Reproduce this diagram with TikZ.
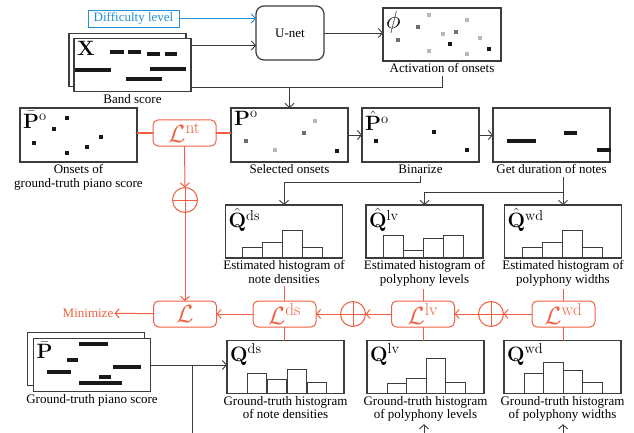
\documentclass[tikz,border=0pt]{standalone}
\usepackage[no-math]{fontspec}
\setmainfont{Liberation Serif}
\usepackage{amsmath}
\usetikzlibrary{arrows.meta,positioning,calc,shadows}
\definecolor{lossorange}{RGB}{240,95,65}
\definecolor{diffblue}{RGB}{35,145,215}
\definecolor{linegray}{RGB}{60,60,60}
\definecolor{lightdot}{RGB}{185,185,185}
\definecolor{middot}{RGB}{110,110,110}
\definecolor{darkdot}{RGB}{25,25,25}

\begin{document}
\begin{tikzpicture}[x=1pt, y=-1pt,
    every node/.style={font=\fontsize{13}{13.5}\selectfont},
    box/.style={draw=linegray, line width=1.2pt, fill=white, outer sep=0pt,
      inner sep=0pt, minimum width=117pt, minimum height=53pt},
    paper/.style={box, copy shadow={shadow xshift=-#1, shadow yshift=#1}},
    paper/.default=5pt,
    caption/.style={align=center, inner sep=2.5pt},
    tag/.style={anchor=north west, inner sep=3pt, font=\fontsize{21}{21}\selectfont},
    lossbox/.style={draw=lossorange, text=lossorange, line width=1pt, rounded corners=5pt,
      minimum width=63pt, minimum height=26pt, inner sep=0pt, outer sep=0pt,
      font=\fontsize{24}{24}\selectfont},
    plus/.style={circle, draw=lossorange, line width=1pt, minimum size=25pt, inner sep=0pt,
      outer sep=0pt, path picture={\draw[lossorange, line width=1pt]
        (path picture bounding box.north) -- (path picture bounding box.south)
        (path picture bounding box.west) -- (path picture bounding box.east);}},
    arr/.style={-{Straight Barb[length=4pt,width=9pt]}, draw=linegray, line width=0.9pt},
    lossarr/.style={arr, draw=lossorange, line width=1pt},
    lossline/.style={draw=lossorange, line width=1pt},
    link/.style={draw=linegray, line width=0.9pt},
    notebar/.style={draw=darkdot, line width=3.5pt},
    histbar/.style={draw=linegray, line width=1pt}]
  \useasboundingbox (0,0) rectangle (634,433);

  % top row
  \node[box, draw=diffblue, line width=0.9pt, text=diffblue, minimum width=91pt,
        minimum height=17pt] (diff) at (133.5,18.5) {Difficulty level};
  \node[draw=linegray, line width=1.2pt, rounded corners=8pt, outer sep=0pt,
        minimum width=68pt, minimum height=54pt] (unet) at (290,33) {U-net};
  \node[paper] (band) at (132.5,65) {};
  \node[tag] (bandtag) at (band.north west) {$\mathbf{X}$};
  \node[caption, below=0pt of band] (bandlab) {Band score};
  \node[box, minimum width=118pt] (act) at (442,34.5) {};
  \node[tag, inner sep=3pt, font=\fontsize{24}{24}\selectfont] (acttag) at (act.north west) {$\phi$};
  \node[caption, below=0pt of act] (actlab) {Activation of onsets};

  \foreach \xa/\xb/\y in {110/124/52, 128/141/52, 147/160/54, 165/177/54,
                          75/111/70, 150/186/69, 126/162/79}
    \draw[notebar] (\xa,\y) -- (\xb,\y);
  \foreach \x/\y/\c in {429/15/lightdot, 467/20/lightdot, 418/27/middot, 398/40/middot,
                        443/34/lightdot, 456/32/middot, 480/38/lightdot, 450/44/darkdot,
                        429/51/lightdot, 467/54/lightdot, 489/49/darkdot}
    \fill[\c] (\x-1.75,\y-1.75) rectangle ++(3.5,3.5);

  % onset row
  \node[box, minimum height=54pt] (pbar) at (78.5,135) {};
  \node[tag] (pbartag) at (pbar.north west) {$\bar{\mathbf{P}}^{\mathrm{o}}$};
  \node[caption, below=0pt of pbar] (pbarlab) {Onsets of\\ground-truth piano score};
  \node[lossbox, right=16pt of pbar, yshift=2pt] (lnt) {$\mathcal{L}^{\mathrm{nt}}$};
  \node[box, minimum height=54pt, right=15pt of pbar.east -| lnt.east] (sel) {};
  \node[tag] (seltag) at (sel.north west) {$\mathbf{P}^{\mathrm{o}}$};
  \node[caption, below=0pt of sel] (sellab) {Selected onsets};
  \node[box, minimum height=54pt, right=14pt of sel] (bin) {};
  \node[tag] (bintag) at (bin.north west) {$\hat{\mathbf{P}}^{\mathrm{o}}$};
  \node[caption, below=0pt of bin] (binlab) {Binarize};
  \node[box, minimum height=54pt, right=14pt of bin] (dur) {};
  \node[caption, below=0pt of dur] (durlab) {Get duration of notes};

  \foreach \x/\y in {67/118, 54/129, 34/143, 101/137, 87/147, 67/153}
    \fill[darkdot] (\x-1.75,\y-1.75) rectangle ++(3.5,3.5);
  \foreach \x/\y/\c in {315/121/lightdot, 304/133/middot, 246/141/middot,
                        275/150/lightdot, 337/151/darkdot,
                        376/141/darkdot, 434/132/darkdot, 467/150/darkdot}
    \fill[\c] (\x-1.75,\y-1.75) rectangle ++(3.5,3.5);
  \foreach \xa/\xb/\y in {507/536/141, 564/577/133, 597/611/150}
    \draw[notebar, line width=4pt] (\xa,\y) -- (\xb,\y);

  % estimated histograms
  \node[box] (qhds) at (284,231.5) {};
  \node[tag] (qhdstag) at (qhds.north west) {$\hat{\mathbf{Q}}^{\mathrm{ds}}$};
  \node[caption, below=0pt of qhds] (qhdslab) {Estimated histogram of\\note densities};
  \node[box] (qhlv) at (424.5,231.5) {};
  \node[tag] (qhlvtag) at (qhlv.north west) {$\hat{\mathbf{Q}}^{\mathrm{lv}}$};
  \node[caption, below=0pt of qhlv] (qhlvlab) {Estimated histogram of\\polyphony levels};
  \node[box] (qhwd) at (563,231.5) {};
  \node[tag] (qhwdtag) at (qhwd.north west) {$\hat{\mathbf{Q}}^{\mathrm{wd}}$};
  \node[caption, below=0pt of qhwd] (qhwdlab) {Estimated histogram of\\polyphony widths};

  \foreach \h [count=\i from 0] in {11,16,28,11}
    \draw[histbar] ($(qhds.south west)+(17+20*\i,0)$) rectangle ++(20,-\h);
  \foreach \h [count=\i from 0] in {23,8,20,23}
    \draw[histbar] ($(qhlv.south west)+(17+20*\i,0)$) rectangle ++(20,-\h);
  \foreach \h [count=\i from 0] in {11,16,28,11}
    \draw[histbar] ($(qhwd.south west)+(18+20*\i,0)$) rectangle ++(20,-\h);

  % losses
  \node[lossbox] (L) at (185,314) {$\mathcal{L}$};
  \node[text=lossorange, inner sep=1pt] (minimize) at (88,313) {Minimize};
  \node[plus] (sumnt) at (185,200) {};
  \node[lossbox] (lds) at (284.5,314) {$\mathcal{L}^{\mathrm{ds}}$};
  \node[plus] (sumds) at (353,314) {};
  \node[lossbox] (llv) at (423,314) {$\mathcal{L}^{\mathrm{lv}}$};
  \node[plus] (sumlv) at (491,314) {};
  \node[lossbox] (lwd) at (563.5,314) {$\mathcal{L}^{\mathrm{wd}}$};

  % ground truth
  \node[paper=6pt] (gt) at (92,365) {};
  \node[tag] (gttag) at (gt.north west) {$\bar{\mathbf{P}}$};
  \node[caption, below=0pt of gt] (gtlab) {Ground-truth piano score};
  \node[box] (qds) at (285.5,367) {};
  \node[tag] (qdstag) at (qds.north west) {$\mathbf{Q}^{\mathrm{ds}}$};
  \node[caption, below=0pt of qds] (qdslab) {Ground-truth histogram\\of note densities};
  \node[box] (qlv) at (425.5,367) {};
  \node[tag] (qlvtag) at (qlv.north west) {$\mathbf{Q}^{\mathrm{lv}}$};
  \node[caption, below=0pt of qlv] (qlvlab) {Ground-truth histogram\\of polyphony levels};
  \node[box] (qwd) at (562.5,367) {};
  \node[tag] (qwdtag) at (qwd.north west) {$\mathbf{Q}^{\mathrm{wd}}$};
  \node[caption, below=0pt of qwd] (qwdlab) {Ground-truth histogram\\of polyphony widths};

  \foreach \xa/\xb/\y in {79/108/344, 67/78/360, 47/71/372, 113/141/367, 99/111/377, 79/122/383}
    \draw[notebar] (\xa,\y) -- (\xb,\y);
  \foreach \h [count=\i from 0] in {20,14,24,11}
    \draw[histbar] ($(qds.south west)+(20+20*\i,0)$) rectangle ++(19,-\h);
  \foreach \h [count=\i from 0] in {10,15,35,11}
    \draw[histbar] ($(qlv.south west)+(20+19.5*\i,0)$) rectangle ++(19.5,-\h);
  \foreach \h [count=\i from 0] in {20,31,23,11}
    \draw[histbar] ($(qwd.south west)+(20+19.5*\i,0)$) rectangle ++(19.5,-\h);

  % connectors
  \coordinate (bandin) at ([yshift=-7pt]band.north east);
  \coordinate (bandtap) at ([yshift=4pt]band.south east);
  \draw[arr, draw=diffblue] (diff.east) -- (diff.east -| unet.west);
  \draw[arr] (bandin) -- (bandin -| unet.west);
  \draw[arr] (unet.east) -- (unet.east -| act.west);
  \draw[link] (bandtap) -| (actlab.south);
  \draw[arr] (bandtap -| sel.north) -- (sel.north);
  \draw[lossline] (pbar.east |- lnt.west) -- (lnt.west);
  \draw[lossline] (lnt.east) -- (lnt.east -| sel.west);
  \draw[lossarr] (lnt) -- (sumnt);
  \draw[lossarr] (sumnt) -- (L);
  \draw[arr] (sel) -- (bin);
  \draw[arr] (bin) -- (dur);
  \coordinate (binturn) at ([yshift=-6pt]binlab.south);
  \draw[arr] (binlab.south) -- (binturn) -| (qhds.north);
  \draw[arr] (qhwd.north |- durlab.south) -- (qhwd.north);
  \coordinate (durturn) at ([yshift=13pt]qhwd.north);
  \draw[arr] (durturn) -| (qhlv.north);

  \draw[lossline] (lds.north |- qhdslab.south) -- (lds.north);
  \draw[lossline] (lds.south) -- (lds.south |- qds.north);
  \draw[lossline] (llv.north |- qhlvlab.south) -- (llv.north);
  \draw[lossline] (llv.south) -- (llv.south |- qlv.north);
  \draw[lossline] (lwd.north |- qhwdlab.south) -- (lwd.north);
  \draw[lossline] (lwd.south) -- (lwd.south |- qwd.north);
  \draw[lossarr] (lwd) -- (sumlv);
  \draw[lossarr] (sumlv) -- (llv);
  \draw[lossarr] (llv) -- (sumds);
  \draw[lossarr] (sumds) -- (lds);
  \draw[lossarr] (lds) -- (L);
  \draw[lossarr] (L) -- (minimize);

  \coordinate (gtdown) at (192,440);
  \coordinate (lvin) at (424,440);
  \coordinate (wdin) at (563,440);
  \draw[arr] (gt.east) -- (gt.east -| qds.west);
  \draw[link] (gt.east -| gtdown) -- (gtdown);
  \draw[arr] (lvin) -- (lvin |- qlvlab.south);
  \draw[arr] (wdin) -- (wdin |- qwdlab.south);
\end{tikzpicture}
\end{document}
